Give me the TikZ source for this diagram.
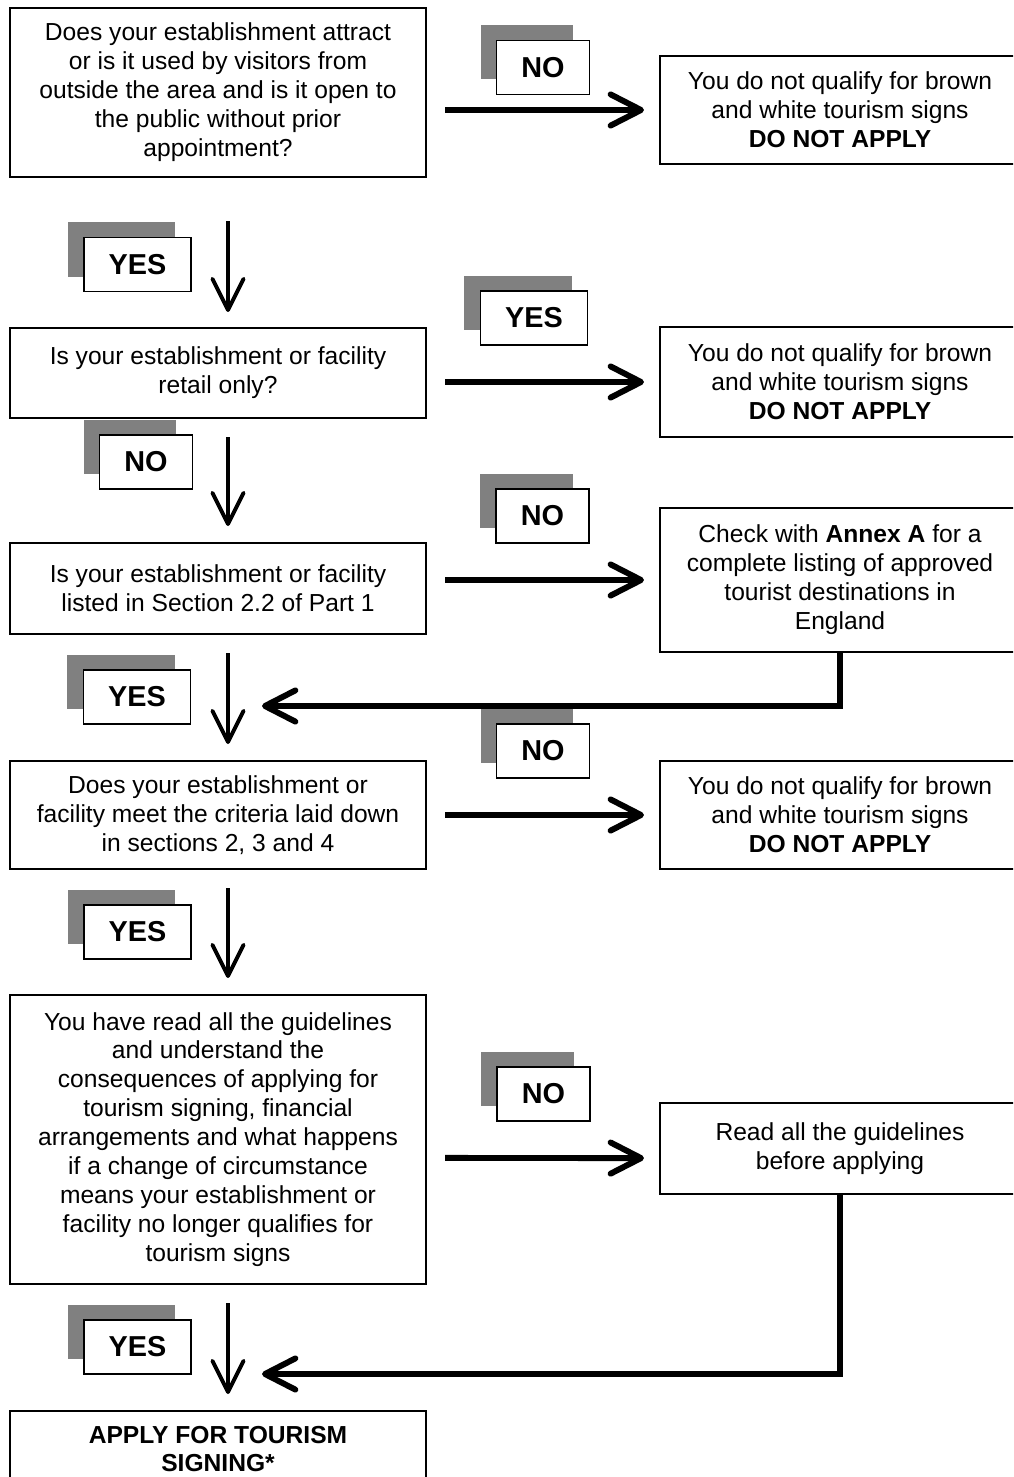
\documentclass[tikz,border=0pt]{standalone}
\usepackage{fontspec}
\setmainfont{Liberation Sans}
\usepackage{xcolor}
\usepackage{tikz}
\usetikzlibrary{arrows.meta,shadows}
\definecolor{cshade}{HTML}{808080}
\definecolor{cink}{HTML}{000000}
\tikzset{
  qbox/.style={draw=cink,line width=1.4pt,minimum width=10.4cm,align=center,
    inner sep=2pt,font=\fontsize{17.5}{20.6}\selectfont},
  abox/.style={qbox,minimum width=9cm},
  tag/.style={draw=cink,fill=white,line width=1pt,inner xsep=0.62cm,
    minimum height=1.35cm,font=\bfseries\fontsize{20.5}{24}\selectfont,
    drop shadow={shadow xshift=-0.4cm,shadow yshift=0.375cm,fill=cshade,opacity=1}},
  harr/.style={draw=cink,line width=4.2pt,-{Straight Barb[round,length=0.76cm,width=0.78cm]}},
  varr/.style={draw=cink,line width=2.8pt,-{Straight Barb[round,length=0.78cm,width=0.78cm]}}
}
\begin{document}
\begin{tikzpicture}[x=0.025cm,y=-0.025cm]
  \useasboundingbox (0,0) rectangle (1013,1477);
  \clip (0,0) rectangle (1013,1477);
  \node[qbox,minimum height=4.225cm] (q1) at (218,92.5) {Does your establishment attract\\or is it used by visitors from\\outside the area and is it open to\\the public without prior\\appointment?};
  \node[qbox,minimum height=2.25cm] (q2) at (218,373) {Is your establishment or facility\\retail only?};
  \node[qbox,minimum height=2.275cm] (q3) at (218,588.5) {Is your establishment or facility\\listed in Section 2.2 of Part 1};
  \node[qbox,minimum height=2.7cm] (q4) at (218,815) {Does your establishment or\\facility meet the criteria laid down\\in sections 2, 3 and 4};
  \node[qbox,minimum height=7.225cm] (q5) at (218,1139.5) {You have read all the guidelines\\and understand the\\consequences of applying for\\tourism signing, financial\\arrangements and what happens\\if a change of circumstance\\means your establishment or\\facility no longer qualifies for\\tourism signs};
  \node[qbox,minimum height=1.9cm] (q6) at (218,1449) {\textbf{APPLY FOR TOURISM}\\\textbf{SIGNING*}};
  \node[abox,minimum height=2.7cm] (r1) at (840,110) {You do not qualify for brown\\and white tourism signs\\\textbf{DO NOT APPLY}};
  \node[abox,minimum height=2.75cm] (r2) at (840,382) {You do not qualify for brown\\and white tourism signs\\\textbf{DO NOT APPLY}};
  \node[abox,minimum height=3.6cm] (r3) at (840,580) {Check with \textbf{Annex A} for a\\complete listing of approved\\tourist destinations in\\England};
  \node[abox,minimum height=2.7cm] (r4) at (840,815) {You do not qualify for brown\\and white tourism signs\\\textbf{DO NOT APPLY}};
  \node[abox,minimum height=2.275cm] (r5) at (840,1148.5) {Read all the guidelines\\before applying};
  \coordinate (j3) at (262,706);
  \coordinate (j5) at (262,1374);
  \draw[harr,shorten <=0.45cm,shorten >=0.375cm] (q1.east |- r1.west) -- (r1.west);
  \draw[harr,shorten <=0.45cm,shorten >=0.375cm] (q2.east |- r2.west) -- (r2.west);
  \draw[harr,shorten <=0.45cm,shorten >=0.375cm] (q3.east |- r3.west) -- (r3.west);
  \draw[harr,shorten <=0.45cm,shorten >=0.375cm] (q4.east |- r4.west) -- (r4.west);
  \draw[harr,shorten <=0.45cm,shorten >=0.375cm] ([yshift=-0.46cm]q5.east) -- ([yshift=-0.24cm]r5.west);
  \draw[varr,shorten <=1.075cm,shorten >=0.375cm] ([xshift=0.25cm]q1.south) -- ([xshift=0.25cm]q2.north);
  \draw[varr,shorten <=0.45cm,shorten >=0.4cm] ([xshift=0.25cm]q2.south) -- ([xshift=0.25cm]q3.north);
  \draw[varr,shorten <=0.45cm,shorten >=0.4cm] ([xshift=0.25cm]q3.south) -- ([xshift=0.25cm]q4.north);
  \draw[varr,shorten <=0.45cm,shorten >=0.4cm] ([xshift=0.25cm]q4.south) -- ([xshift=0.25cm]q5.north);
  \draw[varr,shorten <=0.45cm,shorten >=0.4cm] ([xshift=0.25cm]q5.south) -- ([xshift=0.25cm]q6.north);
  \draw[harr] (r3.south) |- (j3);
  \draw[harr] (r5.south) |- (j5);
  \node[tag] (n1) at (543,67.5) {NO};
  \node[tag] (y1) at (137.5,264.5) {YES};
  \node[tag] (y2) at (534,318) {YES};
  \node[tag] (n2) at (146,462) {NO};
  \node[tag] (n3) at (542.5,516) {NO};
  \node[tag] (y3) at (137,697) {YES};
  \node[tag] (n4) at (543,751) {NO};
  \node[tag] (y4) at (137.5,932) {YES};
  \node[tag] (n5) at (543.5,1094) {NO};
  \node[tag] (y5) at (137.5,1347) {YES};
\end{tikzpicture}
\end{document}
